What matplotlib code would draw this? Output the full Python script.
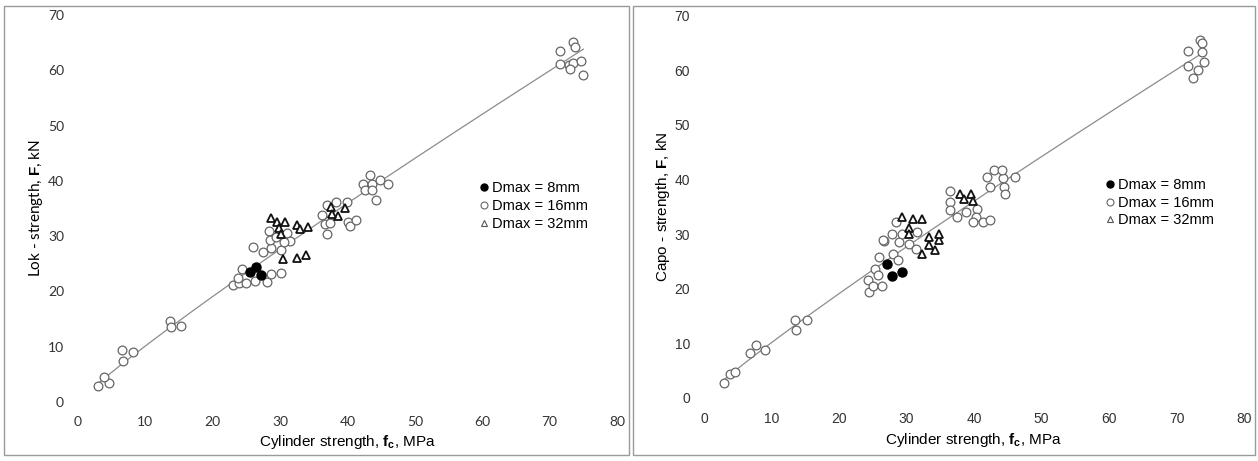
import matplotlib
matplotlib.use("Agg")
import matplotlib.pyplot as plt
from matplotlib.lines import Line2D
from matplotlib.patches import Rectangle
import numpy as np

plt.rcParams['mathtext.fontset'] = 'custom'
plt.rcParams['mathtext.rm'] = 'Liberation Sans'
plt.rcParams['mathtext.bf'] = 'Liberation Sans:bold'

# ---- left chart: Lok-strength ----
lok_d8_x = [25.5, 26.4, 27.2]
lok_d8_y = [23.6, 24.5, 23.0]

lok_d16_x = [2.9, 4.6, 3.9, 6.7, 6.5, 8.2, 13.6, 13.75, 15.3,
             23.0, 23.9, 23.8, 24.4, 24.9, 26.3, 28.1, 28.6, 30.2,
             25.9, 27.4, 28.6, 30.2, 28.4, 28.5, 31.0, 31.5, 29.4, 30.5,
             36.2, 36.9, 38.3, 36.6, 37.4, 37.0, 39.9, 40.1, 40.4, 41.3,
             42.3, 43.3, 43.6, 44.3, 44.8, 46.0, 42.6, 43.6,
             73.5, 73.7, 71.6, 71.5, 72.9, 73.5, 74.7, 73.0, 75.0]
lok_d16_y = [2.9, 3.4, 4.6, 7.4, 9.4, 9.0, 14.7, 13.6, 13.7,
             21.2, 21.5, 22.5, 24.1, 21.5, 21.9, 21.7, 23.2, 23.3,
             28.1, 27.2, 27.8, 27.5, 30.9, 29.3, 30.5, 29.2, 29.8, 29.0,
             33.8, 35.6, 36.2, 32.2, 32.3, 30.3, 36.2, 32.6, 31.8, 33.0,
             39.5, 41.0, 39.5, 36.5, 40.1, 39.5, 38.3, 38.3,
             65.2, 64.2, 63.5, 61.2, 60.9, 61.4, 61.7, 60.2, 59.1]

lok_d32_x = [30.4, 32.5, 33.8, 28.7, 29.6, 30.7, 29.8, 30.1, 32.5, 32.9, 34.1,
             37.6, 38.6, 37.7, 39.6]
lok_d32_y = [25.8, 26.0, 26.5, 33.3, 32.5, 32.6, 31.5, 30.4, 32.0, 31.2, 31.6,
             35.2, 33.7, 34.0, 35.1]

# ---- right chart: Capo-strength ----
capo_d8_x = [27.1, 27.9, 29.3]
capo_d8_y = [24.5, 22.4, 23.0]

capo_d16_x = [2.96, 3.85, 4.6, 6.8, 7.7, 9.0, 13.5, 13.6, 15.3,
              24.5, 24.3, 25.1, 26.3, 25.3, 25.8, 26.0, 28.0, 28.8,
              26.7, 28.9, 30.3, 31.4, 28.4, 27.8, 29.3, 26.5, 31.5,
              36.4, 36.4, 36.4, 37.5, 38.8, 40.4, 40.3, 39.9, 41.4, 42.3,
              41.9, 42.9, 42.3, 44.3, 44.4, 44.6, 46.1, 44.1,
              73.5, 73.7, 71.7, 73.7, 74.0, 71.7, 73.2, 72.4]
capo_d16_y = [2.8, 4.3, 4.7, 8.2, 9.7, 8.7, 14.3, 12.5, 14.3,
              19.3, 21.5, 20.4, 20.4, 23.6, 22.5, 25.8, 26.4, 25.3,
              28.7, 28.5, 28.1, 27.3, 32.2, 30.1, 30.1, 29.0, 30.4,
              37.8, 35.9, 34.4, 33.1, 34.1, 34.5, 33.1, 32.2, 32.2, 32.5,
              40.5, 41.7, 38.7, 40.3, 38.7, 37.4, 40.5, 41.7,
              65.5, 65.0, 63.6, 63.4, 61.6, 60.8, 60.0, 58.5]

capo_d32_x = [32.3, 33.4, 34.2, 34.8, 29.4, 30.9, 32.3, 30.3, 30.3, 33.4,
              34.8, 37.9, 39.5, 38.5, 39.9]
capo_d32_y = [26.4, 28.0, 27.0, 29.0, 33.1, 32.7, 32.7, 31.1, 30.1, 29.5,
              30.1, 37.4, 37.4, 36.4, 36.0]

x_ticks = [0, 10, 20, 30, 40, 50, 60, 70, 80]
y_ticks = [0, 10, 20, 30, 40, 50, 60, 70]
legend_labels = ['Dmax = 8mm', 'Dmax = 16mm', 'Dmax = 32mm']

fig = plt.figure(figsize=(12.58, 4.61), dpi=100)

# chart frames
fig.patches.append(Rectangle((0.003, 0.012), 0.497, 0.976, transform=fig.transFigure,
                             fill=False, edgecolor='#9a9a9a', lw=1.0))
fig.patches.append(Rectangle((0.503, 0.012), 0.495, 0.976, transform=fig.transFigure,
                             fill=False, edgecolor='#9a9a9a', lw=1.0))


def draw_panel(rect, d8, d16, d32, ylabel, leg_anchor, font):
    ax = fig.add_axes(rect)
    xs = np.array(d8[0] + d16[0] + d32[0])
    ys = np.array(d8[1] + d16[1] + d32[1])
    # power trendline (Excel style): y = a * x^b
    b, lna = np.polyfit(np.log(xs), np.log(ys), 1)
    xl = np.linspace(xs.min(), xs.max(), 200)
    ax.plot(xl, np.exp(lna) * xl ** b, color='#8c8c8c', lw=0.9, zorder=1)

    ax.plot(d16[0], d16[1], 'o', ms=6.3, mfc='white', mec='#666666', mew=0.9, zorder=2)
    ax.plot(d32[0], d32[1], '^', ms=6.3, mfc='white', mec='#111111', mew=1.3, zorder=3)
    ax.plot(d8[0], d8[1], 'o', ms=6.5, mfc='black', mec='black', zorder=4)

    ax.set_xlim(0, 80)
    ax.set_ylim(0, 70)
    ax.set_xticks(x_ticks)
    ax.set_yticks(y_ticks)
    ax.tick_params(length=0, labelsize=10, colors='#333333', pad=10)
    for lab in ax.get_xticklabels() + ax.get_yticklabels():
        lab.set_fontfamily(font)
    for s in ax.spines.values():
        s.set_visible(False)
    ax.set_xlabel(r'Cylinder strength, $\mathbf{f_c}$, MPa', fontsize=11,
                  family='Liberation Sans', labelpad=4)
    ax.set_ylabel(ylabel, fontsize=11, family=font, labelpad=2)

    handles = [Line2D([], [], ls='', marker='o', ms=5, mfc='black', mec='black'),
               Line2D([], [], ls='', marker='o', ms=5, mfc='white', mec='#666666', mew=0.8),
               Line2D([], [], ls='', marker='^', ms=5, mfc='white', mec='#555555', mew=0.8)]
    ax.legend(handles, legend_labels, loc='upper left', bbox_to_anchor=leg_anchor,
              frameon=False, handlelength=0.5, handletextpad=0.3, labelspacing=0.25,
              borderaxespad=0, prop={'family': 'Liberation Sans', 'size': 10.5})
    return ax


draw_panel([0.062, 0.128, 0.4285, 0.8395],
           (lok_d8_x, lok_d8_y), (lok_d16_x, lok_d16_y), (lok_d32_x, lok_d32_y),
           r'Lok - strength, $\mathbf{F}$, kN', (0.735, 0.585), 'Lato')
draw_panel([0.5596, 0.137, 0.4293, 0.829],
           (capo_d8_x, capo_d8_y), (capo_d16_x, capo_d16_y), (capo_d32_x, capo_d32_y),
           r'Capo - strength, $\mathbf{F}$, kN', (0.735, 0.59), 'Liberation Sans')

fig.savefig('out.png', dpi=100, facecolor='white')
